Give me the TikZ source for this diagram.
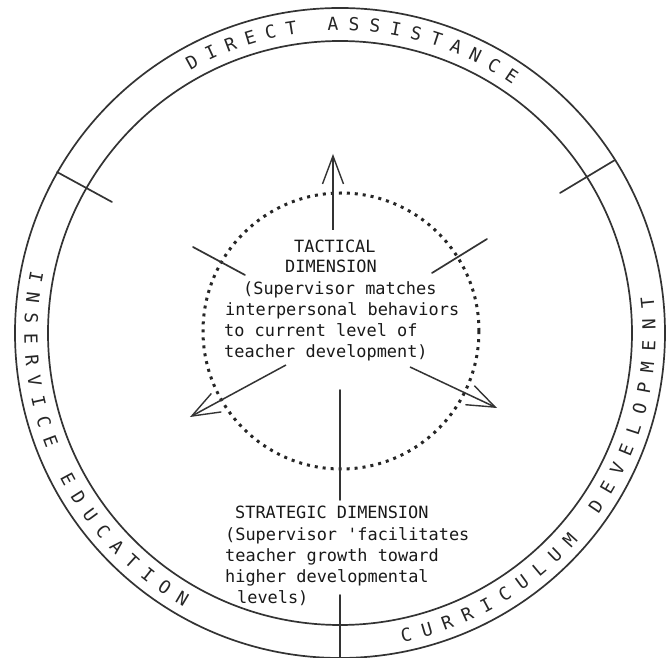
\documentclass[tikz,border=0pt]{standalone}
\usepackage{fontspec}
\newfontfamily\typer{DejaVu Sans Mono}
\usetikzlibrary{arrows.meta}
\begin{document}
\begin{tikzpicture}[x=1pt,y=1pt,
  ringline/.style={line width=1.7pt, draw=black!80},
  divider/.style={line width=1.7pt, draw=black!80, line cap=round},
  dotring/.style={line width=3pt, draw=black!85, dash pattern=on 3pt off 5pt},
  dimarrow/.style={line width=1.5pt, draw=black!80, -{Straight Barb[length=28pt,width=21pt,line width=1.4pt]}},
  ringtext/.style={font=\typer\fontsize{18}{21}\selectfont, text=black!85, inner sep=0pt},
  bodytext/.style={font=\typer\fontsize{16.9}{21}\selectfont, text=black!90, inner sep=0pt, anchor=base west}
]
\useasboundingbox (-340,-325) rectangle (330,333);
\fill[white] (-340,-325) rectangle (330,333);

% centre
\coordinate (C) at (0,0);
% rings
\node[circle, minimum size=650pt, inner sep=0pt, ringline, draw] (outer) at (C) {};
\node[circle, minimum size=584pt, inner sep=0pt, ringline, draw] (inner) at (C) {};
\node[circle, minimum size=276pt, inner sep=0pt, dotring, draw] (tact) at (1,2) {};

% ring dividers
\coordinate (dl1) at (-283,161); \coordinate (dl2) at (-228,131);
\coordinate (dr1) at (275,173);  \coordinate (dr2) at (220,140);
\coordinate (db1) at (0,-262);   \coordinate (db2) at (0,-325);
\draw[divider] (dl1) -- (dl2);
\draw[divider] (dr1) -- (dr2);
\draw[divider] (db1) -- (db2);

% interior separators
\coordinate (il1) at (-147,86); \coordinate (il2) at (-95,58);
\coordinate (ir1) at (92,60);   \coordinate (ir2) at (147,94);
\coordinate (iv1) at (0,-57);   \coordinate (iv2) at (0,-167);
\draw[divider] (il1) -- (il2);
\draw[divider] (ir1) -- (ir2);
\draw[divider] (iv1) -- (iv2);

% arrows
\coordinate (au1) at (-7,103);  \coordinate (au2) at (-7,179);
\coordinate (al1) at (-54,-32); \coordinate (al2) at (-150,-84);
\coordinate (ar1) at (70,-34);  \coordinate (ar2) at (157,-75);
\draw[dimarrow] (au1) -- (au2);
\draw[dimarrow] (al1) -- (al2);
\draw[dimarrow] (ar1) -- (ar2);

% ring texts
\foreach \ch [count=\i from 0] in {D,I,R,E,C,T,{},A,S,S,I,S,T,A,N,C,E}
  \node[ringtext, rotate={118.6-3.9*\i-90}] (da\i) at ({118.6-3.9*\i}:309) {\ch};
\foreach \ch [count=\i from 0] in {I,N,S,E,R,V,I,C,E,{},E,D,U,C,A,T,I,O,N}
  \node[ringtext, rotate={169.5+3.88*\i+90}] (ie\i) at ({169.5+3.88*\i}:309) {\ch};
\foreach \ch [count=\i from 0] in {C,U,R,R,I,C,U,L,U,M,{},D,E,V,E,L,O,P,M,E,N,T}
  \node[ringtext, rotate={282.4+3.96*\i+90}] (cd\i) at ({282.4+3.96*\i}:309) {\ch};

% tactical text
\node[bodytext] (t1) at (-46,80) {TACTICAL};
\node[bodytext] (t2) at (-55,60) {DIMENSION};
\node[bodytext] (t3) at (-97,38) {(Supervisor matches};
\node[bodytext] (t4) at (-115,17) {interpersonal behaviors};
\node[bodytext] (t5) at (-116,-4) {to current level of};
\node[bodytext] (t6) at (-116,-25) {teacher development)};

% strategic text
\node[bodytext] (s1) at (-105,-186) {STRATEGIC DIMENSION};
\node[bodytext] (s2) at (-115,-208) {(Supervisor 'facilitates};
\node[bodytext] (s3) at (-115,-229) {teacher growth toward};
\node[bodytext] (s4) at (-115,-250) {higher developmental};
\node[bodytext] (s5) at (-103,-271) {levels)};
\end{tikzpicture}
\end{document}
